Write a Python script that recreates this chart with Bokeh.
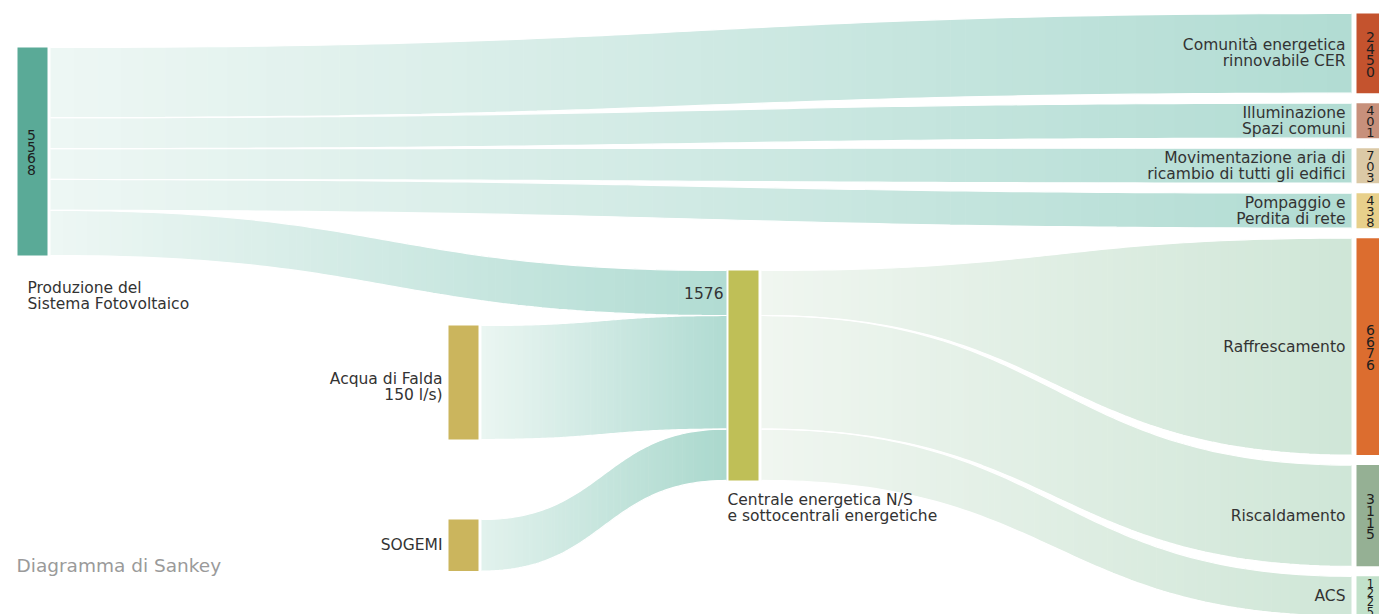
import numpy as np
from bokeh.plotting import figure
from bokeh.models import Range1d
from bokeh.embed import file_html
from bokeh.resources import INLINE
from bokeh.core.properties import value

# ---------------- data ----------------
node_names = [
    "Produzione del\nSistema Fotovoltaico",
    "Acqua di Falda\n150 l/s)",
    "SOGEMI",
    "Centrale energetica N/S\ne sottocentrali energetiche",
    "Comunità energetica\nrinnovabile CER",
    "Illuminazione\nSpazi comuni",
    "Movimentazione aria di\nricambio di tutti gli edifici",
    "Pompaggio e\nPerdita di rete",
    "Raffrescamento",
    "Riscaldamento",
    "ACS",
]
node_column = [0, 1, 1, 2, 3, 3, 3, 3, 3, 3, 3]
link_source = [0, 0, 0, 0, 0, 1, 2, 3, 3, 3]
link_target = [4, 5, 6, 7, 3, 3, 3, 8, 9, 10]
link_value = [2450, 401, 703, 438, 1576, 6500, 2940, 6676, 3115, 1225]
show_node_value = [True, False, False, False, True, True, True, True, True, True, True]
show_link_value = [False, False, False, False, True, False, False, False, False, False]
chart_caption = "Diagramma di Sankey"

# ---------------- styles / layout ----------------
node_colors = ["#5aaa97", "#cbb55d", "#cbb55d", "#bfbf57", "#c4532e", "#c7907b",
               "#dbc9a6", "#e8d08b", "#dc6d2f", "#95b094", "#c2e1ca"]
link_src_color = {0: "#eef7f4", 1: "#ebf6f2", 2: "#e2f2ed", 3: "#f0f6f0"}
link_dst_color = {0: "#b1dcd3", 1: "#b0dbd2", 2: "#aad8cd", 3: "#cfe6d7"}
col_x = [17, 448, 728, 1356]
node_w = 30
col_top = [47, 325, 270, 13]
col_gap = [0, 80, 0, 10]
col_scale = [0.03736, 0.01754, 0.01906, 0.0325]
min_h = 35
link_scale = 0.0325
src_pad = 3
tgt_pad = [0, 0, 2, 5]
TXT = "#333333"
FONT = "DejaVu Sans"
FS = "15.5px"

n_nodes = len(node_names)
n_links = len(link_value)
ins = [[l for l in range(n_links) if link_target[l] == n] for n in range(n_nodes)]
outs = [[l for l in range(n_links) if link_source[l] == n] for n in range(n_nodes)]
node_val = [max(sum(link_value[l] for l in ins[n]), sum(link_value[l] for l in outs[n]))
            for n in range(n_nodes)]

# node geometry
node_top = [0.0] * n_nodes
node_h = [0.0] * n_nodes
for c in range(4):
    y = col_top[c]
    for n in range(n_nodes):
        if node_column[n] != c:
            continue
        h = col_scale[c] * node_val[n]
        if c == 3:
            h = max(h, min_h)
        node_top[n] = y
        node_h[n] = h
        y += h + col_gap[c]

# link slots
src_y0 = [0.0] * n_links
src_y1 = [0.0] * n_links
tgt_y0 = [0.0] * n_links
tgt_y1 = [0.0] * n_links
for c in range(4):
    for n in range(n_nodes):
        if node_column[n] != c:
            continue
        if ins[n]:
            widths = [src_y1[l] - src_y0[l] for l in ins[n]]
            s = node_h[n] / sum(widths)
            y = node_top[n]
            for l, w in zip(ins[n], widths):
                tgt_y0[l] = y
                tgt_y1[l] = y + w * s
                y += w * s
        if outs[n]:
            if ins[n] and len(ins[n]) == len(outs[n]):
                for li, lo in zip(ins[n], outs[n]):
                    src_y0[lo] = tgt_y0[li]
                    src_y1[lo] = tgt_y1[li]
            else:
                nom = [max(link_scale * link_value[l], min_h) for l in outs[n]]
                s = node_h[n] / sum(nom)
                y = node_top[n]
                for l, w in zip(outs[n], nom):
                    src_y0[l] = y
                    src_y1[l] = y + w * s
                    y += w * s


def hex2rgb(h):
    return np.array([int(h[i:i + 2], 16) for i in (1, 3, 5)], dtype=float)


def mix(a, b, f):
    c = hex2rgb(a) * (1 - f) + hex2rgb(b) * f
    return "#%02x%02x%02x" % tuple(int(round(v)) for v in c)


p = figure(width=1379, height=614, output_backend="svg", toolbar_location=None,
           x_range=Range1d(0, 1379), y_range=Range1d(614, 0),
           min_border=0, outline_line_color=None, x_axis_type=None, y_axis_type=None)
p.grid.visible = False
p.background_fill_color = "white"

# links with horizontal gradient made of thin strips
strip_xs, strip_ys, strip_cols = [], [], []
edge_xs, edge_ys = [], []
N = 80
t = np.linspace(0, 1, N + 1)
for l in range(n_links):
    sn, tn = link_source[l], link_target[l]
    x0 = col_x[node_column[sn]] + node_w + src_pad
    x1 = col_x[node_column[tn]] - tgt_pad[node_column[tn]]
    a = (1 - t) ** 3 + 1.5 * t * (1 - t)
    xs = x0 * a + x1 * (1 - a)
    sm = 3 * t ** 2 - 2 * t ** 3
    top = src_y0[l] + (tgt_y0[l] - src_y0[l]) * sm
    bot = src_y1[l] + (tgt_y1[l] - src_y1[l]) * sm
    for i in range(N):
        xa, xb = xs[i], min(xs[i + 1] + 0.6, x1) if i < N - 1 else xs[i + 1]
        strip_xs.append([xa, xb, xb, xa])
        strip_ys.append([top[i], top[i + 1], bot[i + 1], bot[i]])
        f = ((xs[i] + xs[i + 1]) / 2 - x0) / (x1 - x0)
        strip_cols.append(mix(link_src_color[sn], link_dst_color[sn], f))
    edge_xs += [list(xs), list(xs)]
    edge_ys += [list(top), list(bot)]

p.patches(strip_xs, strip_ys, fill_color=strip_cols, line_color=None)
p.multi_line(edge_xs, edge_ys, line_color="white", line_width=1.2)

# nodes
p.quad(left=[col_x[node_column[n]] for n in range(n_nodes)],
       right=[col_x[node_column[n]] + node_w for n in range(n_nodes)],
       top=node_top, bottom=[node_top[n] + node_h[n] for n in range(n_nodes)],
       fill_color=node_colors, line_color=None)

# node labels
lab_x, lab_y, lab_t, lab_align = [], [], [], []
LH = 16
for n in range(n_nodes):
    c = node_column[n]
    lines = node_names[n].split("\n")
    k = len(lines)
    if c == 0:
        x, align = col_x[c] + 10, "left"
        ys = [node_top[n] + node_h[n] + 32 + i * LH for i in range(k)]
    elif c == 2:
        x, align = col_x[c] - 1, "left"
        ys = [node_top[n] + node_h[n] + 20 + i * LH for i in range(k)]
    else:
        off = 4 if c == 1 and k > 1 else 0
        x = col_x[c] - (6 if c == 1 else 11)
        align = "right"
        cy = node_top[n] + node_h[n] / 2 + off
        ys = [cy + (i - (k - 1) / 2) * LH for i in range(k)]
    for line, yy in zip(lines, ys):
        lab_x.append(x)
        lab_y.append(yy)
        lab_t.append(line)
        lab_align.append(align)

for align in ("left", "right"):
    idx = [i for i in range(len(lab_t)) if lab_align[i] == align]
    p.text(x=[lab_x[i] for i in idx], y=[lab_y[i] for i in idx], text=[lab_t[i] for i in idx],
           text_align=align, text_baseline="middle", text_font=value(FONT),
           text_font_size=FS, text_color=TXT)

# vertical digit values on nodes
dx, dy, dt, dsz = [], [], [], []
for n in range(n_nodes):
    if not show_node_value[n]:
        continue
    s = str(node_val[n])
    k = len(s)
    step = min(11.6, (node_h[n] - 3) / k)
    size = "14px" if step >= 11.5 else ("13px" if step >= 10.5 else "11.5px")
    cx = col_x[node_column[n]] + node_w / 2 - 1
    cy = node_top[n] + node_h[n] / 2 + 1
    for i, ch in enumerate(s):
        dx.append(cx)
        dy.append(cy + (i - (k - 1) / 2) * step)
        dt.append(ch)
        dsz.append(size)
p.text(x=dx, y=dy, text=dt, text_align="center", text_baseline="middle",
       text_font=value(FONT), text_font_size=dsz, text_color="#1e1e1e")

# link value labels
for l in range(n_links):
    if show_link_value[l]:
        tn = link_target[l]
        x1 = col_x[node_column[tn]] - tgt_pad[node_column[tn]]
        p.text(x=[x1 - 3], y=[(tgt_y0[l] + tgt_y1[l]) / 2], text=[str(link_value[l])],
               text_align="right", text_baseline="middle", text_font=value(FONT),
               text_font_size=FS, text_color=TXT)

# caption
p.text(x=[16], y=[565], text=[chart_caption], text_align="left", text_baseline="middle",
       text_font=value(FONT), text_font_size="18.5px", text_color="#9a9a9a")

open("out.html", "w").write(file_html(p, INLINE))
